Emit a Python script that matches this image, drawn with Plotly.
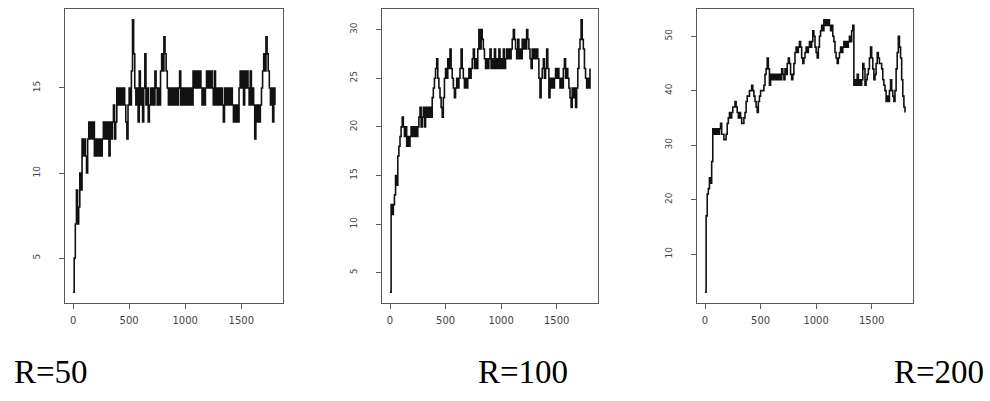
import plotly.graph_objects as go

# ---------------- data ----------------
TIME_STEP = 10  # values below are read every 10 time units, t = 0 .. 1800

R50_VALUES = [
    3, 5, 7, 9, 7, 8, 10, 9, 12, 11,
    12, 11, 10, 12, 13, 12, 13, 12, 13, 11,
    12, 11, 12, 11, 12, 11, 12, 13, 12, 13,
    12, 13, 11, 13, 12, 13, 14, 12, 13, 15,
    14, 15, 14, 15, 14, 15, 14, 13, 12, 14,
    15, 14, 16, 19, 17, 15, 14, 15, 13, 16,
    14, 15, 13, 15, 17, 14, 15, 13, 14, 15,
    14, 15, 14, 16, 15, 14, 15, 14, 16, 17,
    16, 18, 17, 16, 15, 14, 15, 14, 15, 14,
    15, 14, 15, 14, 15, 16, 14, 15, 14, 15,
    14, 15, 14, 15, 14, 15, 14, 16, 15, 16,
    15, 16, 15, 16, 15, 14, 15, 14, 15, 16,
    15, 16, 15, 16, 15, 14, 16, 14, 15, 14,
    15, 14, 15, 14, 13, 15, 14, 15, 14, 15,
    14, 15, 14, 13, 14, 13, 14, 13, 15, 16,
    15, 16, 14, 16, 15, 16, 15, 14, 16, 14,
    15, 14, 12, 14, 13, 14, 13, 14, 15, 16,
    17, 16, 18, 17, 16, 15, 14, 15, 13, 15,
    14,
]

R100_VALUES = [
    3, 12, 11, 12, 13, 15, 14, 17, 18, 19,
    20, 21, 20, 19, 20, 18, 19, 18, 19, 20,
    19, 20, 19, 20, 19, 20, 21, 22, 20, 21,
    22, 20, 22, 21, 22, 21, 22, 21, 23, 24,
    25, 26, 27, 25, 24, 23, 22, 21, 23, 25,
    26, 25, 27, 26, 28, 26, 25, 24, 23, 24,
    25, 24, 25, 26, 28, 26, 25, 24, 25, 24,
    25, 26, 25, 26, 27, 28, 26, 27, 26, 28,
    30, 28, 30, 29, 28, 27, 26, 27, 26, 27,
    28, 26, 27, 26, 28, 26, 27, 26, 28, 26,
    27, 26, 28, 26, 27, 28, 27, 28, 27, 28,
    29, 30, 29, 28, 27, 29, 27, 28, 27, 29,
    28, 29, 28, 30, 29, 28, 27, 26, 28, 27,
    28, 27, 28, 27, 25, 23, 25, 26, 27, 25,
    26, 28, 26, 23, 25, 24, 25, 24, 25, 26,
    25, 26, 25, 24, 25, 24, 26, 27, 25, 26,
    25, 24, 23, 22, 24, 23, 24, 22, 24, 26,
    28, 29, 31, 29, 28, 26, 25, 24, 25, 24,
    26,
]

R200_VALUES = [
    3, 17, 21, 22, 24, 23, 27, 33, 32, 33,
    32, 33, 32, 33, 34, 32, 32, 31, 31, 32,
    34, 35, 36, 35, 36, 37, 37, 38, 37, 36,
    35, 36, 35, 34, 34, 35, 36, 38, 39, 39,
    40, 40, 41, 40, 39, 38, 37, 36, 38, 39,
    40, 40, 40, 41, 43, 44, 46, 44, 41, 43,
    42, 43, 42, 43, 42, 43, 42, 43, 42, 44,
    43, 42, 44, 43, 45, 46, 45, 43, 42, 43,
    45, 47, 48, 47, 48, 49, 48, 46, 45, 46,
    47, 48, 47, 48, 49, 48, 49, 51, 50, 48,
    47, 46, 48, 50, 51, 52, 51, 53, 52, 53,
    52, 53, 52, 51, 52, 50, 49, 47, 46, 45,
    46, 47, 48, 47, 48, 49, 48, 49, 48, 49,
    50, 49, 51, 52, 41, 42, 41, 43, 41, 42,
    41, 42, 45, 44, 41, 42, 43, 44, 46, 48,
    46, 44, 42, 43, 45, 47, 46, 45, 45, 44,
    42, 41, 40, 38, 39, 38, 40, 42, 40, 39,
    38, 40, 44, 47, 50, 48, 46, 42, 39, 37,
    36,
]

X_TICKS = [0, 500, 1000, 1500]
Y_TICKS_R50 = [5, 10, 15]
Y_TICKS_R100 = [5, 10, 15, 20, 25, 30]
Y_TICKS_R200 = [10, 20, 30, 40, 50]
PANEL_LABELS = ["R=50", "R=100", "R=200"]

# ---------------- layout geometry (pixels) ----------------
W, H = 990, 401
PANEL_X = [(65, 283), (382, 598), (697, 913)]
PANEL_Y_TOP, PANEL_Y_BOTTOM = 9, 303
LABEL_X = [(12, "left"), (476, "left"), (986, "right")]
LABEL_Y_CENTER = 372

series = [R50_VALUES, R100_VALUES, R200_VALUES]
yticks = [Y_TICKS_R50, Y_TICKS_R100, Y_TICKS_R200]


def r_range(lo, hi):
    pad = 0.04 * (hi - lo)
    return [lo - pad, hi + pad]


fig = go.Figure()
for i, vals in enumerate(series):
    times = [TIME_STEP * k for k in range(len(vals))]
    suffix = "" if i == 0 else str(i + 1)
    fig.add_trace(go.Scatter(
        x=times, y=vals, mode="lines",
        line=dict(color="#111111", width=1.6, shape="hv"),
        xaxis="x" + suffix, yaxis="y" + suffix,
        showlegend=False, hoverinfo="skip",
    ))
    x0, x1 = PANEL_X[i]
    common = dict(
        showline=True, mirror=True, linecolor="#5a5a5a", linewidth=1,
        ticks="outside", ticklen=5, tickwidth=1, tickcolor="#5a5a5a",
        showgrid=False, zeroline=False,
        tickfont=dict(family="DejaVu Sans", size=9, color="#444444"),
    )
    fig.layout["xaxis" + suffix] = dict(
        common,
        domain=[x0 / W, x1 / W],
        anchor="y" + suffix,
        range=r_range(min(times), max(times)),
        tickmode="array", tickvals=X_TICKS,
        ticktext=[str(v) for v in X_TICKS],
        ticklabelstandoff=3,
        tickfont=dict(family="DejaVu Sans", size=10, color="#444444"),
    )
    fig.layout["yaxis" + suffix] = dict(
        common,
        domain=[(H - PANEL_Y_BOTTOM) / H, (H - PANEL_Y_TOP) / H],
        anchor="x" + suffix,
        range=r_range(min(vals), max(vals)),
        tickmode="array", tickvals=yticks[i],
        ticktext=[str(v) for v in yticks[i]],
        tickangle=-90,
        ticklabelstandoff=15,
    )
    lx, anchor = LABEL_X[i]
    fig.add_annotation(
        text=PANEL_LABELS[i], xref="paper", yref="paper",
        x=lx / W, y=(H - LABEL_Y_CENTER) / H,
        xanchor=anchor, yanchor="middle", showarrow=False,
        font=dict(family="Liberation Serif", size=33, color="#000000"),
    )

fig.update_layout(
    width=W, height=H,
    margin=dict(l=0, r=0, t=0, b=0),
    paper_bgcolor="white", plot_bgcolor="white",
)

fig.write_html(
    "out.html",
    config={"displayModeBar": False, "staticPlot": True},
    post_script="document.body.style.margin='0';document.body.style.overflow='hidden';",
)
